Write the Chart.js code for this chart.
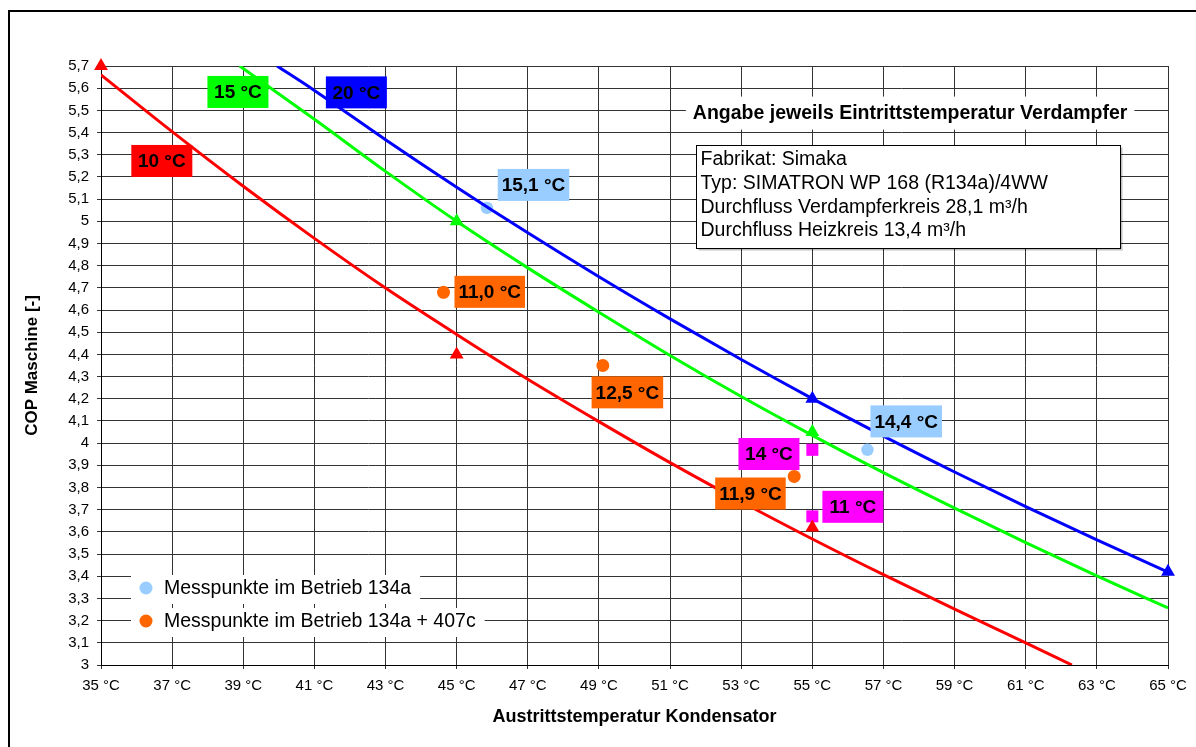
<!DOCTYPE html>
<html><head><meta charset="utf-8">
<script src="https://cdn.jsdelivr.net/npm/chart.js@4.4.1/dist/chart.umd.min.js"></script>
<style>html,body{margin:0;padding:0;background:#fff;} #wrap{width:1196px;height:747px;}</style>
</head><body><div id="wrap"><canvas id="c" width="1196" height="747"></canvas></div>
<script>
// ---------- data ----------
const xTickLabels = ['35 °C','37 °C','39 °C','41 °C','43 °C','45 °C','47 °C','49 °C','51 °C','53 °C','55 °C','57 °C','59 °C','61 °C','63 °C','65 °C'];
const yTickLabels = ['3','3,1','3,2','3,3','3,4','3,5','3,6','3,7','3,8','3,9','4','4,1','4,2','4,3','4,4','4,5','4,6','4,7','4,8','4,9','5','5,1','5,2','5,3','5,4','5,5','5,6','5,7'];

// trend curves (Austrittstemperatur °C -> COP)
const curve10X = [35, 37, 39, 41, 43, 45, 47, 49, 51, 53, 55, 57, 59, 61, 62.3];
const curve10Y = [5.66, 5.404, 5.158, 4.923, 4.699, 4.490, 4.288, 4.097, 3.912, 3.736, 3.568, 3.407, 3.252, 3.100, 3.00];
const curve15X = [38.9, 41, 43, 45, 47, 49, 51, 53, 55, 57, 59, 61, 63, 65];
const curve15Y = [5.70, 5.46, 5.225, 5.00, 4.79, 4.59, 4.395, 4.21, 4.035, 3.867, 3.707, 3.552, 3.402, 3.257];
const curve20X = [39.95, 41, 43, 45, 47, 49, 51, 53, 55, 57, 59, 61, 63, 65];
const curve20Y = [5.70, 5.59, 5.368, 5.154, 4.948, 4.750, 4.560, 4.377, 4.201, 4.032, 3.870, 3.714, 3.564, 3.419];

// manufacturer points (triangles)
const tri10X = [35, 45, 55];   const tri10Y = [5.70, 4.40, 3.62];
const tri15X = [45, 55];       const tri15Y = [5.00, 4.05];
const tri20X = [55, 65];       const tri20Y = [4.20, 3.42];
// squares
const sqX = [55, 55];          const sqY = [3.97, 3.67];
// measured points
const mess134X = [45.85, 56.55];         const mess134Y = [5.06, 3.97];
const mess407X = [44.63, 49.11, 54.49];  const mess407Y = [4.68, 4.35, 3.85];

// point labels
const labelTexts = ['10 °C','15 °C','20 °C','15,1 °C','11,0 °C','12,5 °C','14,4 °C','14 °C','11,9 °C','11 °C'];
const labelColors = ['#FF0000','#00FF00','#0000FF','#99CCFF','#FF6600','#FF6600','#99CCFF','#FF00FF','#FF6600','#FF00FF'];
const labelAtX = [36.71, 38.85, 42.18, 47.16, 45.93, 49.80, 57.64, 53.78, 53.26, 56.14];
const labelAtY = [5.272, 5.583, 5.581, 5.164, 4.682, 4.229, 4.098, 3.951, 3.773, 3.713];

const noteTitle = 'Angabe jeweils Eintrittstemperatur Verdampfer';
const infoLines = ['Fabrikat: Simaka','Typ: SIMATRON WP 168 (R134a)/4WW','Durchfluss Verdampferkreis 28,1 m³/h','Durchfluss Heizkreis 13,4 m³/h'];

// ---------- build ----------
const zip = (xs, ys) => xs.map((x, i) => ({x, y: ys[i]}));
const FONT = "'Liberation Sans', Arial, sans-serif";
Chart.defaults.font.family = FONT;
Chart.defaults.color = '#000';

const lineDs = (label, xs, ys, color) => ({
  type: 'line', label, data: zip(xs, ys), borderColor: color, backgroundColor: color,
  borderWidth: 3, pointRadius: 0, fill: false, cubicInterpolationMode: 'monotone', showLine: true
});
const markDs = (label, xs, ys, color, style, r, legend) => ({
  type: 'scatter', label, data: zip(xs, ys), backgroundColor: color, borderColor: color,
  borderWidth: 0, pointStyle: style, pointRadius: r, pointHoverRadius: r, clip: false, inLegend: !!legend
});

const datasets = [
  lineDs('10 °C', curve10X, curve10Y, '#FF0000'),
  lineDs('15 °C', curve15X, curve15Y, '#00FF00'),
  lineDs('20 °C', curve20X, curve20Y, '#0000FF'),
  markDs('10 °C Hersteller', tri10X, tri10Y, '#FF0000', 'triangle', 8),
  markDs('15 °C Hersteller', tri15X, tri15Y, '#00FF00', 'triangle', 8),
  markDs('20 °C Hersteller', tri20X, tri20Y, '#0000FF', 'triangle', 8),
  markDs('Messpunkte Quadrat', sqX, sqY, '#FF00FF', 'rect', 8.5),
  markDs('Messpunkte im Betrieb 134a', mess134X, mess134Y, '#99CCFF', 'circle', 6.2, true),
  markDs('Messpunkte im Betrieb 134a + 407c', mess407X, mess407Y, '#FF6600', 'circle', 6.5, true)
];

const decor = {
  id: 'decor',
  beforeDraw(chart) {
    const {ctx} = chart;
    ctx.save();
    ctx.fillStyle = '#fff';
    ctx.fillRect(0, 0, chart.width, chart.height);
    ctx.strokeStyle = '#000';
    ctx.lineWidth = 2;
    ctx.strokeRect(9, 11, chart.width + 40, chart.height + 40);
    ctx.restore();
  },
  afterDatasetsDraw(chart) {
    const {ctx, chartArea: ca, scales: {x, y}} = chart;
    ctx.save();
    // legend
    ctx.font = '19.5px ' + FONT;
    ctx.textBaseline = 'middle';
    ctx.textAlign = 'left';
    chart.data.datasets.filter(d => d.inLegend).forEach((d, i) => {
      const cy = ca.bottom - 77 + i * 33;
      const tw = ctx.measureText(d.label).width;
      ctx.fillStyle = '#fff';
      ctx.fillRect(ca.left + 30, cy - 13, 33 + tw + 9, 29);
      ctx.fillStyle = d.backgroundColor;
      ctx.beginPath(); ctx.arc(ca.left + 45, cy, 6.5, 0, Math.PI * 2); ctx.fill();
      ctx.fillStyle = '#000';
      ctx.fillText(d.label, ca.left + 63, cy + 1);
    });
    // note title
    ctx.font = 'bold 19.5px ' + FONT;
    ctx.textAlign = 'center';
    const nx = x.getPixelForValue(57.75), ny = y.getPixelForValue(5.49);
    const nw = ctx.measureText(noteTitle).width;
    ctx.fillStyle = '#fff';
    ctx.fillRect(nx - nw / 2 - 7, ny - 16, nw + 14, 33);
    ctx.fillStyle = '#000';
    ctx.fillText(noteTitle, nx, ny + 1);
    // info box
    const bx = Math.round(x.getPixelForValue(51.74)) + 0.5, by = Math.round(y.getPixelForValue(5.344)) + 0.5;
    ctx.fillStyle = 'rgba(0,0,0,0.25)';
    ctx.fillRect(bx + 2, by + 2, 424, 103);
    ctx.fillStyle = '#fff';
    ctx.fillRect(bx, by, 424, 103);
    ctx.strokeStyle = '#000'; ctx.lineWidth = 1;
    ctx.strokeRect(bx, by, 424, 103);
    ctx.font = '19.5px ' + FONT;
    ctx.textAlign = 'left';
    ctx.fillStyle = '#000';
    infoLines.forEach((t, i) => ctx.fillText(t, bx + 4, by + 14.5 + i * 23.7));
    // point labels
    ctx.font = 'bold 19px ' + FONT;
    ctx.textAlign = 'center';
    labelTexts.forEach((t, i) => {
      const cx = x.getPixelForValue(labelAtX[i]), cy = y.getPixelForValue(labelAtY[i]);
      const tw = ctx.measureText(t).width;
      const w = Math.max(tw + 8, 61), h = 32;
      ctx.fillStyle = labelColors[i];
      ctx.fillRect(cx - w / 2, cy - h / 2, w, h);
      ctx.fillStyle = '#000';
      ctx.fillText(t, cx, cy + 1);
    });
    ctx.restore();
  }
};

new Chart(document.getElementById('c'), {
  type: 'scatter',
  data: {datasets},
  plugins: [decor],
  options: {
    responsive: false, animation: false, devicePixelRatio: 1,
    layout: {padding: {left: 10, top: 66, right: 28, bottom: 19}},
    plugins: {legend: {display: false}, tooltip: {enabled: false}},
    scales: {
      x: {
        type: 'linear', position: 'bottom', min: 35, max: 65,
        ticks: {stepSize: 2, autoSkip: false, maxRotation: 0, padding: 8, font: {size: 15}, color: '#000',
                callback: (v, i) => xTickLabels[i]},
        grid: {color: '#333', lineWidth: 1, tickLength: 4},
        border: {color: '#000', width: 1},
        title: {display: true, text: 'Austrittstemperatur Kondensator', font: {size: 18, weight: 'bold'}, color: '#000', padding: {top: 0, bottom: 0}},
        afterFit(s) { s.height = 63; }
      },
      y: {
        type: 'linear', position: 'left', min: 3, max: 5.7,
        ticks: {stepSize: 0.1, autoSkip: false, padding: 8, font: {size: 15}, color: '#000',
                callback: (v, i) => yTickLabels[i]},
        grid: {color: '#333', lineWidth: 1, tickLength: 4},
        border: {color: '#000', width: 1},
        title: {display: true, text: 'COP Maschine [-]', font: {size: 17, weight: 'bold'}, color: '#000', padding: {top: 12, bottom: 0}},
        afterFit(s) { s.width = 91; }
      }
    }
  }
});
</script></body></html>
